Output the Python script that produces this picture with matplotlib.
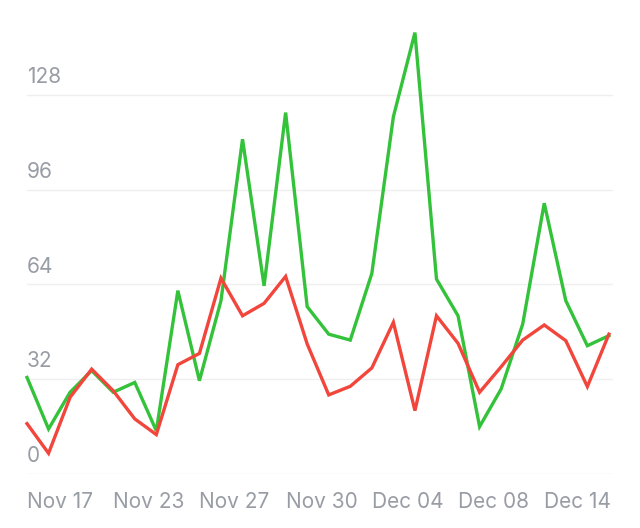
import matplotlib
matplotlib.use('Agg')
import matplotlib.pyplot as plt

# values, one per category (28 points)
green = [32.6, 15.2, 27.6, 34.9, 27.6, 30.9, 14.6, 61.9, 31.5, 58.5,
         113, 63.5, 122, 56.5, 47.2, 45.2, 67.7, 120.6, 149, 65.8,
         53.4, 16, 28.7, 50.6, 91.4, 58.5, 43.3, 46.7]
red = [17, 7, 25.9, 35.4, 28.1, 18.6, 13.3, 36.9, 40.7, 66.1,
       53.4, 57.6, 66.7, 43.9, 26.7, 29.6, 35.8, 51.2, 21.4, 53.4,
       44.1, 27.6, 36.2, 45.2, 50.3, 45, 29.5, 47.2]
tick_idx = [0, 4, 8, 12, 16, 20, 24]
tick_labels = ['Nov 17', 'Nov 23', 'Nov 27', 'Nov 30', 'Dec 04', 'Dec 08', 'Dec 14']
y_ticks = [0, 32, 64, 96, 128]

txt_color = '#989ca4'
plt.rcParams['font.family'] = ['Inter', 'DejaVu Sans']

fig = plt.figure(figsize=(6.4, 5.28), dpi=100)
ax = fig.add_axes([27 / 640, 54 / 528, 586 / 640, 474 / 528])

x = list(range(len(green)))
ax.plot(x, green, color='#33c23a', lw=2.4, solid_joinstyle='miter', clip_on=False, zorder=3)
ax.plot(x, red, color='#f2463c', lw=2.4, solid_joinstyle='miter', clip_on=False, zorder=4)

ax.set_xlim(0, 27.19)
ax.set_ylim(0, 160)

# gridlines + labels sitting above them
for v in y_ticks:
    ax.axhline(v, color='#efefef', lw=1, zorder=1)
    ax.text(0, v + 6, str(v), color=txt_color, fontsize=15, ha='left', va='center')

for i, lab in zip(tick_idx, tick_labels):
    ax.text(i, -9.6, lab, color=txt_color, fontsize=15, ha='left', va='center', clip_on=False)

ax.set_xticks([])
ax.set_yticks([])
for s in ax.spines.values():
    s.set_visible(False)

fig.savefig('out.png', dpi=100)
